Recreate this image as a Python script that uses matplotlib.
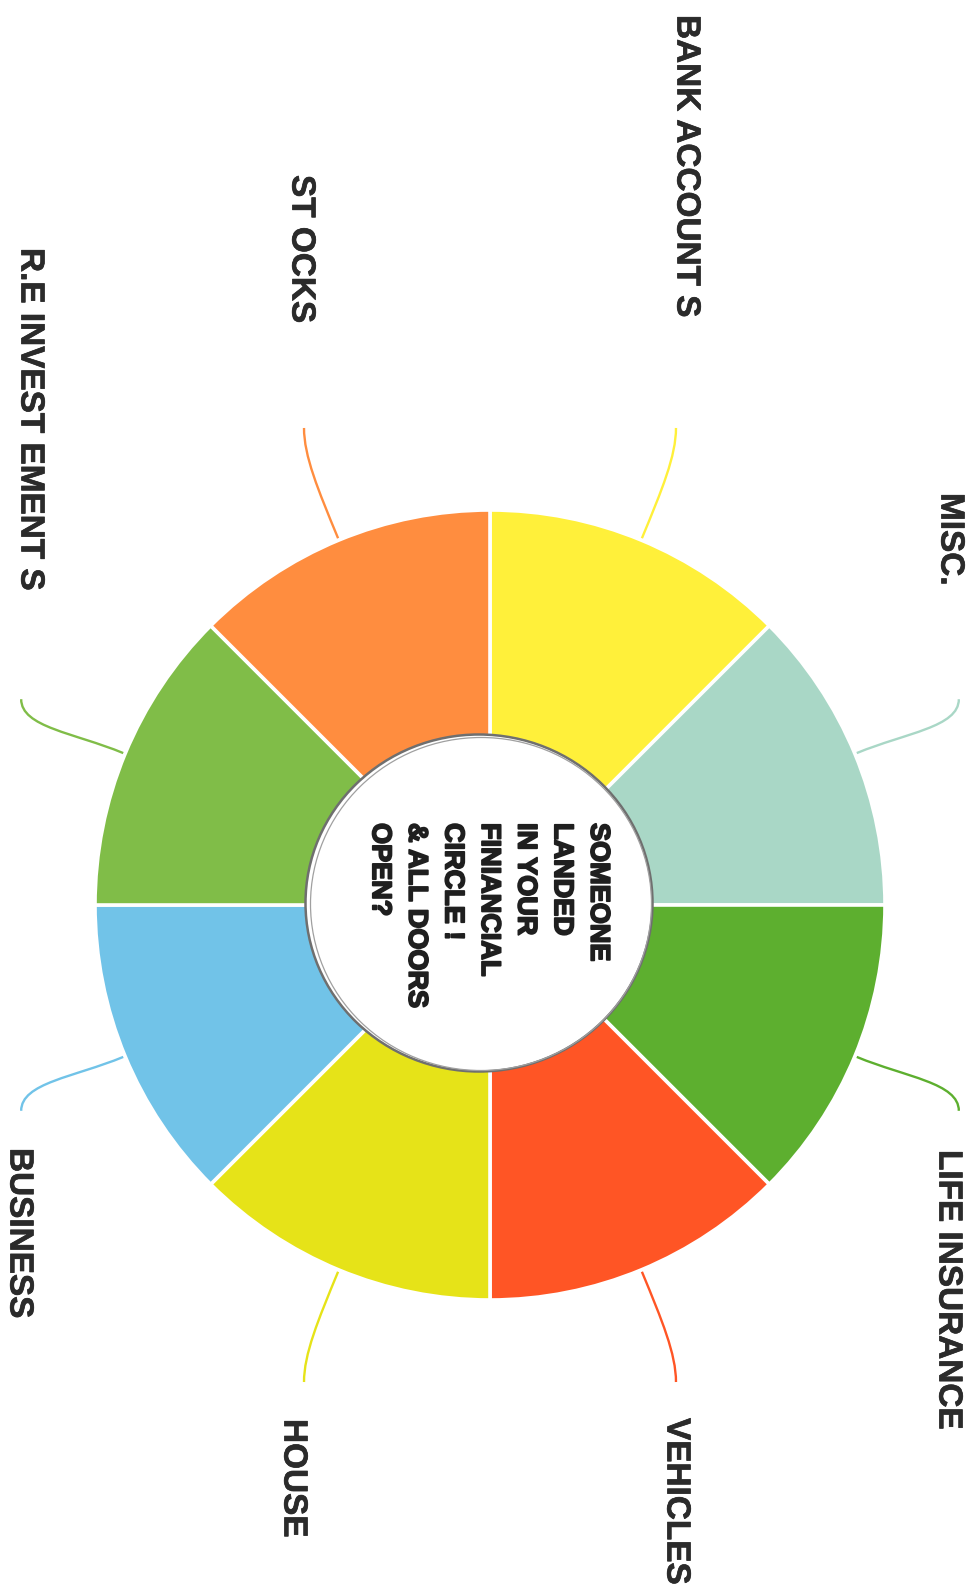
import numpy as np
import matplotlib.pyplot as plt
import matplotlib.patheffects as pe
from matplotlib.patches import Ellipse, PathPatch
from matplotlib.path import Path

# chart data (clockwise from 12 o'clock)
categories = ["BANK ACCOUNT S", "MISC.", "LIFE INSURANCE", "VEHICLES",
              "HOUSE", "BUSINESS", "R.E INVEST EMENT S", "ST OCKS"]
values = [1, 1, 1, 1, 1, 1, 1, 1]
colors = ["#FFF03A", "#A9D7C6", "#5DAF2F", "#FF5525",
          "#E6E318", "#71C3E8", "#80BD48", "#FF8D3F"]
center_text = "SOMEONE\nLANDED\nIN YOUR\nFINIANCIAL\nCIRCLE !\n& ALL DOORS\nOPEN?"

W, H = 972, 1596
cx, cy = 490, H - 905
R = 395

# label anchors (x centre, top y in image pixels)
label_pos = {
    "BANK ACCOUNT S": (686, 15),
    "MISC.": (950, 493),
    "LIFE INSURANCE": (948, 1150),
    "VEHICLES": (676, 1418),
    "HOUSE": (293, 1419),
    "BUSINESS": (19, 1148),
    "R.E INVEST EMENT S": (30, 248),
    "ST OCKS": (301, 175),
}

fig = plt.figure(figsize=(W / 100, H / 100), dpi=100)
ax = fig.add_axes([0, 0, 1, 1])

ax.pie(values, colors=colors, startangle=90, counterclock=False,
       radius=R, center=(cx, cy),
       wedgeprops=dict(edgecolor="white", linewidth=2.6))

# connectors from the middle of each wedge
n = len(values)
for i, (cat, col) in enumerate(zip(categories, colors)):
    theta = np.radians(90 - (i + 0.5) * 360 / n)
    u = np.array([np.cos(theta), np.sin(theta)])
    p0 = np.array([cx, cy]) + (R + 2) * u
    p1 = np.array([cx, cy]) + (R + 55) * u
    # end nudged slightly toward vertical axis
    shift = np.radians(1.2) * np.sign(np.sin(theta)) * np.sign(np.cos(theta))
    ue = np.array([np.cos(theta + shift), np.sin(theta + shift)])
    p3 = np.array([cx, cy]) + 512 * ue
    p2 = p3 - np.array([0, 28]) * np.sign(u[1])
    path = Path([p0, p1, p2, p3], [Path.MOVETO, Path.CURVE4, Path.CURVE4, Path.CURVE4])
    ax.add_patch(PathPatch(path, facecolor="none", edgecolor=col, lw=1.7))

    lx, ly = label_pos[cat]
    ax.text(lx, H - ly, cat, rotation=-90, ha="center", va="top",
            fontsize=24, fontweight="bold", color="#2b2b2b",
            family=["Liberation Sans", "DejaVu Sans"],
            path_effects=[pe.withStroke(linewidth=0.5, foreground="#2b2b2b")])

# paper circle in the middle
ax.add_patch(Ellipse((479, H - 903), 347, 337, facecolor="white",
                     edgecolor="#6f6f6f", lw=1.8, zorder=5))
ax.add_patch(Ellipse((481, H - 904), 341, 333, facecolor="none",
                     edgecolor="#a0a0a0", lw=0.9, zorder=5))

ax.text(489, H - 823, center_text, rotation=-90, ha="center", va="top",
        multialignment="left", linespacing=1.52, fontsize=19.5,
        fontweight="heavy", color="#1f1f1f", zorder=6,
        family=["Liberation Sans", "DejaVu Sans"],
        path_effects=[pe.withStroke(linewidth=1.3, foreground="#1f1f1f")])

ax.set_xlim(0, W)
ax.set_ylim(0, H)
ax.set_aspect("auto")
ax.axis("off")

fig.savefig("out.png", dpi=100, facecolor="white")
